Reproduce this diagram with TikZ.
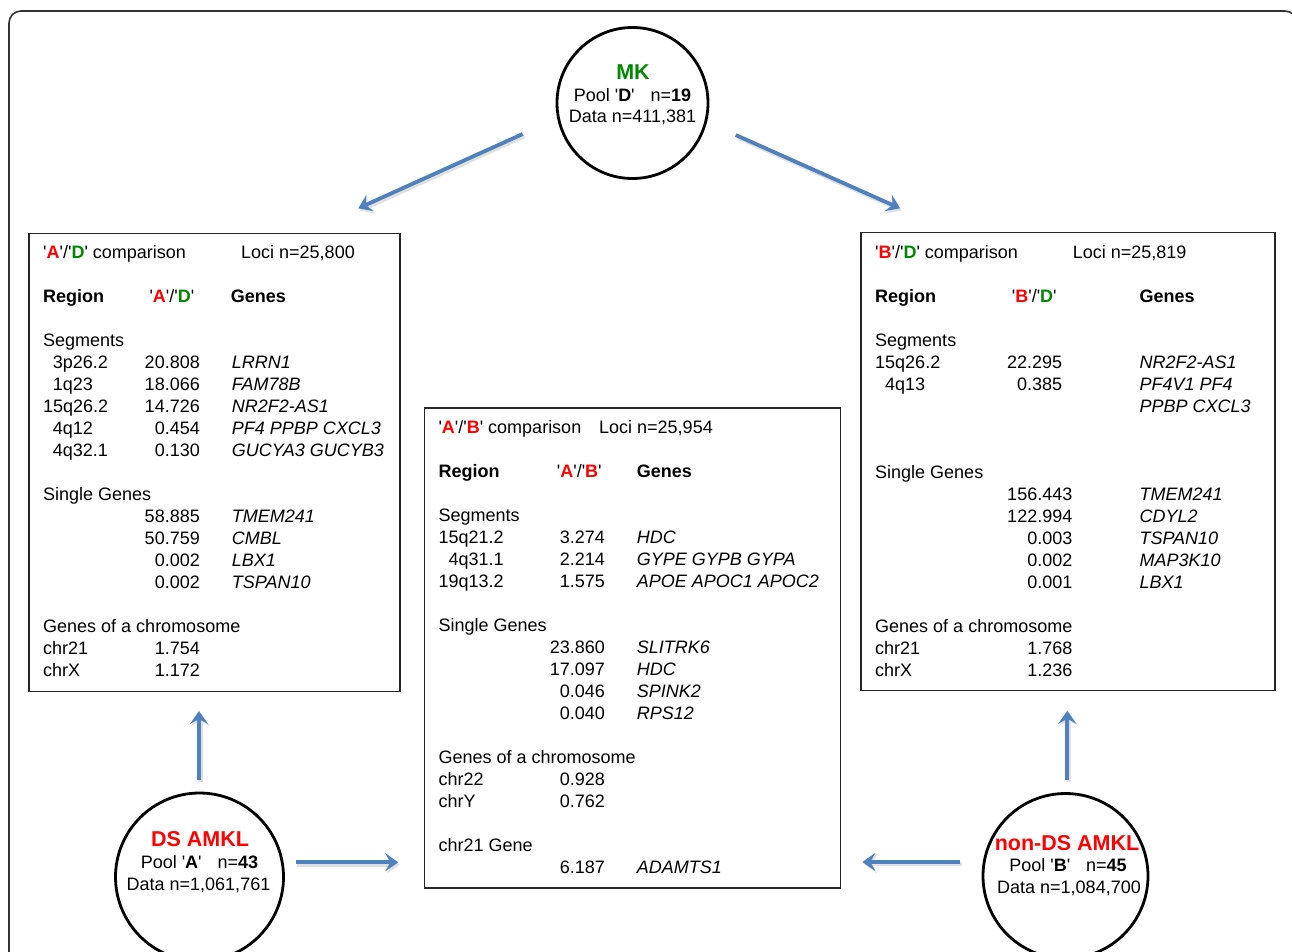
\documentclass[tikz,border=0pt]{standalone}
\usepackage{fontspec}
\setmainfont{Liberation Sans}
\usetikzlibrary{arrows.meta}
\definecolor{dgreen}{RGB}{0,135,0}
\definecolor{dred}{RGB}{255,0,0}
\definecolor{arrblue}{RGB}{79,129,189}
\newcommand\fs{\fontsize{18}{22}\selectfont}
\newcommand\ftitle{\fontsize{21.5}{24}\selectfont\bfseries}
\newcommand\q{\textquotesingle}
\newcommand\pair[4]{\q\textcolor{#1}{\bfseries #2}\q/\q\textcolor{#3}{\bfseries #4}\q}
\tikzset{
  tx/.style={anchor=base west, inner sep=0pt, font=\fs},
  hd/.style={anchor=base west, inner sep=0pt, font=\fs\bfseries},
  num/.style={anchor=base east, inner sep=0pt, font=\fs},
  gn/.style={anchor=base west, inner sep=0pt, font=\fs\itshape},
  ct/.style={anchor=base, inner sep=0pt, font=\fs},
  panel/.style={draw=black!85, line width=1.3pt, inner sep=0pt},
  pool/.style={circle, draw=black, line width=2.8pt, inner sep=0pt},
  flow/.style={draw=arrblue, line width=3.8pt, -{Stealth[length=13pt,width=18pt,inset=5pt]}},
}
\begin{document}
\begin{tikzpicture}[x=1pt,y=-1pt]
\useasboundingbox (0,0) rectangle (1292,951);
\clip (0,0) rectangle (1292,951);
\fill[white] (0,0) rectangle (1292,951);
\draw[black!80, line width=1.6pt, rounded corners=12pt] (9,11) rectangle (1297,1010);

% panels
\node[panel, minimum width=371pt, minimum height=458pt] (boxAD) at (214.5,462.5) {};
\node[panel, minimum width=416pt, minimum height=480pt] (boxAB) at (632.5,648) {};
\node[panel, minimum width=414pt, minimum height=458pt] (boxBD) at (1068,461.7) {};

% circles
\node[pool, minimum size=151pt] (mk) at (632.5,103) {};
\node[pool, minimum size=168pt] (ds) at (199.5,877) {};
\node[pool, minimum size=165pt] (nds) at (1065.5,876) {};

\node[ct, font=\ftitle, text=dgreen] (mkT) at (633,79.3) {MK};
\node[ct] (mkP) at (632.5,101) {Pool \q\textbf{D}\q\hspace{16pt}n=\textbf{19}};
\node[ct] (mkD) at (632.5,122.3) {Data n=411,381};

\node[ct, font=\ftitle, text=dred] (dsT) at (200,846.7) {DS AMKL};
\node[ct] (dsP) at (199.5,868.3) {Pool \q\textbf{A}\q\hspace{16pt}n=\textbf{43}};
\node[ct] (dsD) at (198.5,890) {Data n=1,061,761};

\node[ct, font=\ftitle, text=dred] (ndsT) at (1067,850.7) {non-DS AMKL};
\node[ct] (ndsP) at (1068,871.7) {Pool \q\textbf{B}\q\hspace{16pt}n=\textbf{45}};
\node[ct] (ndsD) at (1069,893.3) {Data n=1,084,700};

% arrow end points
\coordinate (a1s) at (522.7,134);   \coordinate (a1e) at (358.3,208.3);
\coordinate (a2s) at (735.7,135);   \coordinate (a2e) at (900,208.3);
\coordinate (a3s) at (199,780);     \coordinate (a3e) at (199,711);
\coordinate (a4s) at (295.7,862.3); \coordinate (a4e) at (398.3,862.3);
\coordinate (a5s) at (1067.3,780);  \coordinate (a5e) at (1067.3,710.7);
\coordinate (a6s) at (960,862);     \coordinate (a6e) at (862.3,862);
\foreach \s/\e in {a1s/a1e,a2s/a2e,a3s/a3e,a4s/a4e,a5s/a5e,a6s/a6e}{
  \draw[flow, draw=black!12, line width=4.5pt, -{Stealth[length=13pt,width=19pt,inset=5pt]}] ([shift={(1.5,2)}]\s) -- ([shift={(1.5,2)}]\e);
}
\draw[flow] (a1s) -- (a1e);
\draw[flow] (a2s) -- (a2e);
\draw[flow] (a3s) -- (a3e);
\draw[flow] (a4s) -- (a4e);
\draw[flow] (a5s) -- (a5e);
\draw[flow] (a6s) -- (a6e);

% ---------------- A/D panel
\node[tx] (adH) at (43,258) {\pair{dred}{A}{dgreen}{D} comparison};
\node[tx] (adL) at (241,258) {Loci n=25,800};
\node[hd] (adR) at (43,302) {Region};
\node[tx] (adX) at (149.3,302) {\pair{dred}{A}{dgreen}{D}};
\node[hd] (adG) at (230.7,302) {Genes};
\node[tx] (adS) at (43,346) {Segments};
\node[tx] (ad1r) at (52.7,368) {3p26.2};  \node[num] (ad1n) at (200,368) {20.808}; \node[gn] (ad1g) at (231.7,368) {LRRN1};
\node[tx] (ad2r) at (52.7,390) {1q23};    \node[num] (ad2n) at (200,390) {18.066}; \node[gn] (ad2g) at (231.7,390) {FAM78B};
\node[tx] (ad3r) at (43,412) {15q26.2};   \node[num] (ad3n) at (200,412) {14.726}; \node[gn] (ad3g) at (231.7,412) {NR2F2-AS1};
\node[tx] (ad4r) at (52.7,434) {4q12};    \node[num] (ad4n) at (200,434) {0.454};  \node[gn] (ad4g) at (231.7,434) {PF4 PPBP CXCL3};
\node[tx] (ad5r) at (52.7,456) {4q32.1};  \node[num] (ad5n) at (200,456) {0.130};  \node[gn] (ad5g) at (231.7,456) {GUCYA3 GUCYB3};
\node[tx] (adSG) at (43,500) {Single Genes};
\node[num] (ad6n) at (200,522) {58.885}; \node[gn] (ad6g) at (231.7,522) {TMEM241};
\node[num] (ad7n) at (200,544) {50.759}; \node[gn] (ad7g) at (231.7,544) {CMBL};
\node[num] (ad8n) at (200,566) {0.002};  \node[gn] (ad8g) at (231.7,566) {LBX1};
\node[num] (ad9n) at (200,588) {0.002};  \node[gn] (ad9g) at (231.7,588) {TSPAN10};
\node[tx] (adC) at (43,632) {Genes of a chromosome};
\node[tx] (adc1r) at (43,654) {chr21}; \node[num] (adc1n) at (200,654) {1.754};
\node[tx] (adc2r) at (43,676) {chrX};  \node[num] (adc2n) at (200,676) {1.172};

% ---------------- A/B panel
\node[tx] (abH) at (438.3,433.3) {\pair{dred}{A}{dred}{B} comparison};
\node[tx] (abL) at (599,433.3) {Loci n=25,954};
\node[hd] (abR) at (438.3,477) {Region};
\node[tx] (abX) at (556.7,477) {\pair{dred}{A}{dred}{B}};
\node[hd] (abG) at (636.7,477) {Genes};
\node[tx] (abS) at (438.3,521.7) {Segments};
\node[tx] (ab1r) at (438.3,543) {15q21.2}; \node[num] (ab1n) at (605,543) {3.274}; \node[gn] (ab1g) at (636.7,543) {HDC};
\node[tx] (ab2r) at (448.3,565) {4q31.1};  \node[num] (ab2n) at (605,565) {2.214}; \node[gn] (ab2g) at (636.7,565) {GYPE GYPB GYPA};
\node[tx] (ab3r) at (438.3,587) {19q13.2}; \node[num] (ab3n) at (605,587) {1.575}; \node[gn] (ab3g) at (636.7,587) {APOE APOC1 APOC2};
\node[tx] (abSG) at (438.3,631.7) {Single Genes};
\node[num] (ab4n) at (605,653) {23.860}; \node[gn] (ab4g) at (636.7,653) {SLITRK6};
\node[num] (ab5n) at (605,675) {17.097}; \node[gn] (ab5g) at (636.7,675) {HDC};
\node[num] (ab6n) at (605,697) {0.046};  \node[gn] (ab6g) at (636.7,697) {SPINK2};
\node[num] (ab7n) at (605,719) {0.040};  \node[gn] (ab7g) at (636.7,719) {RPS12};
\node[tx] (abC) at (438.3,763) {Genes of a chromosome};
\node[tx] (abc1r) at (438.3,785) {chr22}; \node[num] (abc1n) at (605,785) {0.928};
\node[tx] (abc2r) at (438.3,807) {chrY};  \node[num] (abc2n) at (605,807) {0.762};
\node[tx] (abK) at (438.3,851.7) {chr21 Gene};
\node[num] (ab8n) at (605,873.3) {6.187}; \node[gn] (ab8g) at (636.7,873.3) {ADAMTS1};

% ---------------- B/D panel
\node[tx] (bdH) at (875,258.3) {\pair{dred}{B}{dgreen}{D} comparison};
\node[tx] (bdL) at (1072.7,258.3) {Loci n=25,819};
\node[hd] (bdR) at (875,302.3) {Region};
\node[tx] (bdX) at (1011.7,302.3) {\pair{dred}{B}{dgreen}{D}};
\node[hd] (bdG) at (1139.3,302.3) {Genes};
\node[tx] (bdS) at (875,346.7) {Segments};
\node[tx] (bd1r) at (875,368.3) {15q26.2}; \node[num] (bd1n) at (1062.3,368.3) {22.295}; \node[gn] (bd1g) at (1139.3,368.3) {NR2F2-AS1};
\node[tx] (bd2r) at (885,390.3) {4q13};    \node[num] (bd2n) at (1062.3,390.3) {0.385};  \node[gn] (bd2g) at (1139.3,390.3) {PF4V1 PF4};
\node[gn] (bd2h) at (1139.3,412.3) {PPBP CXCL3};
\node[tx] (bdSG) at (875,478.3) {Single Genes};
\node[num] (bd3n) at (1072.5,500.3) {156.443}; \node[gn] (bd3g) at (1139.3,500.3) {TMEM241};
\node[num] (bd4n) at (1072.5,522.3) {122.994}; \node[gn] (bd4g) at (1139.3,522.3) {CDYL2};
\node[num] (bd5n) at (1072.5,544.3) {0.003};   \node[gn] (bd5g) at (1139.3,544.3) {TSPAN10};
\node[num] (bd6n) at (1072.5,566.3) {0.002};   \node[gn] (bd6g) at (1139.3,566.3) {MAP3K10};
\node[num] (bd7n) at (1072.5,588.3) {0.001};   \node[gn] (bd7g) at (1139.3,588.3) {LBX1};
\node[tx] (bdC) at (875,632.3) {Genes of a chromosome};
\node[tx] (bdc1r) at (875,654.3) {chr21}; \node[num] (bdc1n) at (1072.5,654.3) {1.768};
\node[tx] (bdc2r) at (875,676.3) {chrX};  \node[num] (bdc2n) at (1072.5,676.3) {1.236};
\end{tikzpicture}
\end{document}
